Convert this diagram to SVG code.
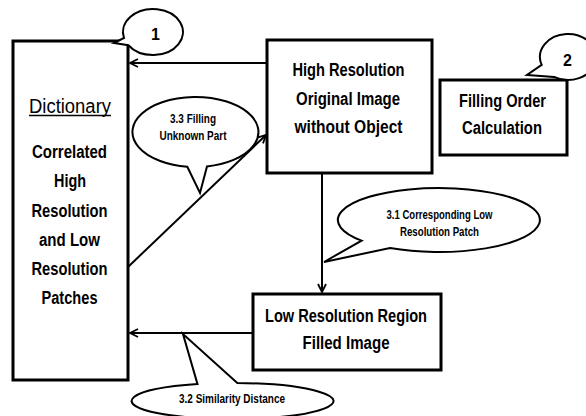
<svg xmlns="http://www.w3.org/2000/svg" width="586" height="416" viewBox="0 0 586 416">
  <defs>
    <marker id="arrow" viewBox="0 0 10 10" refX="9" refY="5" markerWidth="10" markerHeight="10" markerUnits="userSpaceOnUse" orient="auto">
      <path d="M1,1 L9,5 L1,9" fill="none" stroke="#000" stroke-width="1.8"/>
    </marker>
  </defs>
  <style>
    .box { fill: #fff; stroke: #000; stroke-width: 3; }
    .call { fill: #fff; stroke: #000; stroke-width: 2; stroke-linejoin: miter; }
    .edge { fill: none; stroke: #000; stroke-width: 2; marker-end: url(#arrow); }
    text { font-family: "Liberation Sans", Arial, sans-serif; fill: #000; text-anchor: middle; }
    .main { font-size: 17.5px; font-weight: bold; }
    .dict { font-size: 20px; }
    .small { font-size: 12px; font-weight: bold; }
    .num { font-size: 16px; font-weight: bold; }
  </style>
  <rect width="586" height="416" fill="#fff"/>

  <!-- connectors -->
  <g id="connectors">
    <line class="edge" x1="267" y1="63" x2="130" y2="63"/>
    <line class="edge" x1="128" y1="267" x2="266" y2="135"/>
    <line class="edge" x1="322" y1="173" x2="322" y2="292"/>
    <line class="edge" x1="253" y1="333" x2="130" y2="333"/>
  </g>

  <!-- dictionary store -->
  <g id="dictionary">
    <rect class="box" x="13" y="41" width="115" height="339"/>
    <text class="dict" x="70" y="112.5" textLength="82" lengthAdjust="spacingAndGlyphs">Dictionary</text>
    <line x1="29" y1="115.5" x2="111" y2="115.5" stroke="#000" stroke-width="1.5"/>
    <text class="main" x="69.5" y="158" textLength="75" lengthAdjust="spacingAndGlyphs">Correlated</text>
    <text class="main" x="70" y="187" textLength="32" lengthAdjust="spacingAndGlyphs">High</text>
    <text class="main" x="69.5" y="216.5" textLength="76" lengthAdjust="spacingAndGlyphs">Resolution</text>
    <text class="main" x="69.5" y="245.5" textLength="61" lengthAdjust="spacingAndGlyphs">and Low</text>
    <text class="main" x="69.5" y="274.5" textLength="76" lengthAdjust="spacingAndGlyphs">Resolution</text>
    <text class="main" x="69.5" y="303.5" textLength="56" lengthAdjust="spacingAndGlyphs">Patches</text>
  </g>

  <!-- original image -->
  <g id="hr-original">
    <rect class="box" x="267" y="40" width="165" height="133"/>
    <text class="main" x="348.5" y="76" textLength="112" lengthAdjust="spacingAndGlyphs">High Resolution</text>
    <text class="main" x="348" y="105" textLength="104" lengthAdjust="spacingAndGlyphs">Original Image</text>
    <text class="main" x="348.5" y="133" textLength="108" lengthAdjust="spacingAndGlyphs">without Object</text>
  </g>

  <!-- filling order -->
  <g id="filling-order">
    <rect class="box" x="440" y="80" width="127" height="75"/>
    <text class="main" x="502.5" y="106.5" textLength="87" lengthAdjust="spacingAndGlyphs">Filling Order</text>
    <text class="main" x="502" y="134" textLength="80" lengthAdjust="spacingAndGlyphs">Calculation</text>
  </g>

  <!-- low resolution filled image -->
  <g id="lr-filled">
    <rect class="box" x="253" y="294" width="188" height="76"/>
    <text class="main" x="346" y="321.5" textLength="162" lengthAdjust="spacingAndGlyphs">Low Resolution Region</text>
    <text class="main" x="346" y="348.5" textLength="87" lengthAdjust="spacingAndGlyphs">Filled Image</text>
  </g>

  <!-- step callouts -->
  <g id="callout-1">
    <path class="call" d="M124,38 A30,23 0 1 1 128.4,45.2 L114,43 Z"/>
    <text class="num" x="155.5" y="40">1</text>
  </g>
  <g id="callout-2">
    <path class="call" d="M541.7,64.9 A28,23 0 1 1 554,76.9 L527,75 Z"/>
    <text class="num" x="567.5" y="65.5">2</text>
  </g>
  <g id="callout-3-3">
    <path class="call" d="M187.3,166.7 A63,35 0 1 1 207,166.4 L200,193 Z"/>
    <text class="small" x="193" y="122.5" textLength="46" lengthAdjust="spacingAndGlyphs">3.3 Filling</text>
    <text class="small" x="193" y="140" textLength="67" lengthAdjust="spacingAndGlyphs">Unknown Part</text>
  </g>
  <g id="callout-3-1">
    <path class="call" d="M361.6,240.6 A101,32 0 1 1 390,248 L324,262 Z"/>
    <text class="small" x="439.5" y="219.3" textLength="106" lengthAdjust="spacingAndGlyphs">3.1 Corresponding Low</text>
    <text class="small" x="439.5" y="236" textLength="79" lengthAdjust="spacingAndGlyphs">Resolution Patch</text>
  </g>
  <g id="callout-3-2">
    <path class="call" d="M237.3,383 A101,18 0 1 1 197.5,384.1 L183,334 Z"/>
    <text class="small" x="232" y="403.3" textLength="106" lengthAdjust="spacingAndGlyphs">3.2 Similarity Distance</text>
  </g>
</svg>
